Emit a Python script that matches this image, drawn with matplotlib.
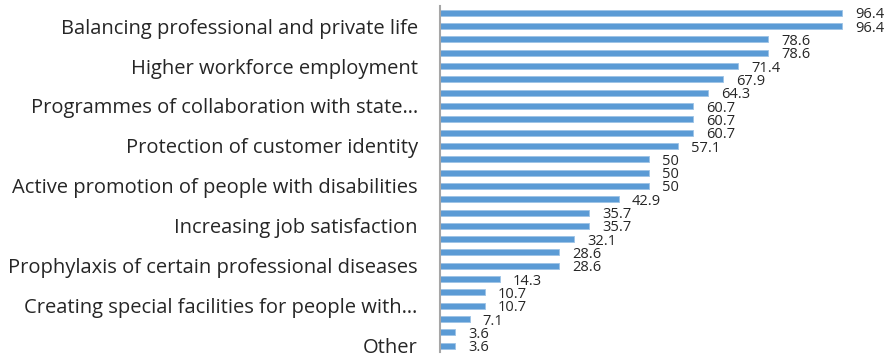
import matplotlib.pyplot as plt

plt.rcParams['font.family'] = ['Open Sans', 'DejaVu Sans']

values = [96.4, 96.4, 78.6, 78.6, 71.4, 67.9, 64.3, 60.7, 60.7, 60.7, 57.1,
          50, 50, 50, 42.9, 35.7, 35.7, 32.1, 28.6, 28.6, 14.3, 10.7, 10.7,
          7.1, 3.6, 3.6]
# only every third category name is shown in the original chart
labels = ["", "Balancing professional and private life", "", "",
          "Higher workforce employment", "", "",
          "Programmes of collaboration with state\u2026", "", "",
          "Protection of customer identity", "", "",
          "Active promotion of people with disabilities", "", "",
          "Increasing job satisfaction", "", "",
          "Prophylaxis of certain professional diseases", "", "",
          "Creating special facilities for people with\u2026", "", "",
          "Other"]

fig = plt.figure(figsize=(8.9, 3.57), dpi=100)
ax = fig.add_axes([440 / 890, 0.013, 417 / 890, 0.97])

y = range(len(values))
ax.barh(y, values, height=0.45, color='#5B9BD5', edgecolor='#9DC3E6',
        linewidth=0.6)
ax.set_ylim(len(values) - 0.5, -0.5)
ax.set_xlim(0, 100)

for i, v in enumerate(values):
    ax.annotate(f"{v:g}", (v, i), xytext=(9.5, -1.5), textcoords='offset points',
                va='center', ha='left', fontsize=10.5, color='#262626')

ax.set_yticks(list(y))
ax.set_yticklabels(labels, fontsize=14.5, color='#262626')
ax.tick_params(axis='y', length=0, pad=16)
ax.set_xticks([])
for side in ['top', 'right', 'bottom']:
    ax.spines[side].set_visible(False)
ax.spines['left'].set_color('#A6A6A6')
ax.spines['left'].set_linewidth(1.5)

fig.savefig('out.png', dpi=100)
